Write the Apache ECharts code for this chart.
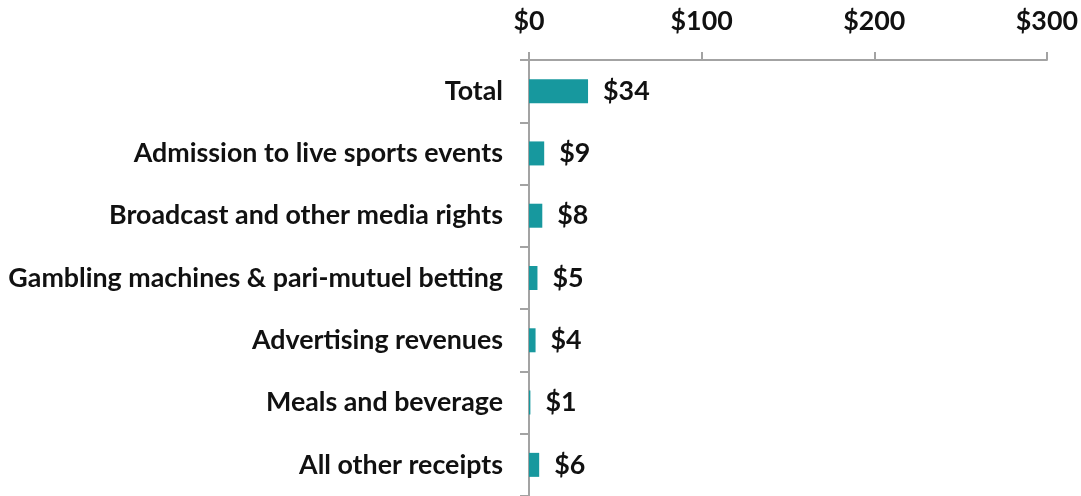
<!DOCTYPE html>
<html>
<head>
<meta charset="utf-8">
<script src="https://cdn.jsdelivr.net/npm/echarts@6/dist/echarts.min.js"></script>
<style>
  html, body { margin: 0; padding: 0; background: #fff; }
  #chart { width: 1081px; height: 496px; }
</style>
</head>
<body>
<div id="chart"></div>
<script>
  const categories = [
    'Total',
    'Admission to live sports events',
    'Broadcast and other media rights',
    'Gambling machines & pari-mutuel betting',
    'Advertising revenues',
    'Meals and beverage',
    'All other receipts'
  ];
  // values in $ billions
  const values = [34.2, 8.8, 7.7, 4.9, 3.8, 0.8, 5.9];
  const xTicks = [0, 100, 200, 300];

  const axisGrey = '#a3a3a3';
  const font = 'Lato';
  const fs = 26.8;

  const chart = echarts.init(document.getElementById('chart'));
  const option = {
    animation: false,
    grid: { left: 529, right: 34, top: 60, height: 439 },
    xAxis: {
      type: 'value',
      position: 'top',
      min: xTicks[0],
      max: xTicks[xTicks.length - 1],
      interval: 100,
      splitLine: { show: false },
      axisLine: { show: true, lineStyle: { color: axisGrey, width: 2 } },
      axisTick: { show: true, length: 8, lineStyle: { color: axisGrey, width: 2 } },
      axisLabel: {
        margin: 25,
        color: '#111',
        fontFamily: font,
        fontWeight: 'bold',
        fontSize: fs,
        formatter: v => '$' + v
      }
    },
    yAxis: {
      type: 'category',
      inverse: true,
      data: categories,
      axisLine: { show: true, lineStyle: { color: axisGrey, width: 2 } },
      axisTick: { show: true, length: 9, lineStyle: { color: axisGrey, width: 2 } },
      axisLabel: {
        margin: 26,
        color: '#111',
        fontFamily: font,
        fontWeight: 'bold',
        fontSize: fs,
        padding: [7, 0, 0, 0]
      }
    },
    series: [{
      type: 'bar',
      data: values,
      barWidth: 24,
      itemStyle: { color: '#17989e' },
      label: {
        show: true,
        position: 'right',
        distance: 15,
        color: '#111',
        fontFamily: font,
        fontWeight: 'bold',
        fontSize: fs,
        padding: [7, 0, 0, 0],
        formatter: p => '$' + Math.round(p.value)
      }
    }]
  };
  chart.setOption(option);
</script>
</body>
</html>
